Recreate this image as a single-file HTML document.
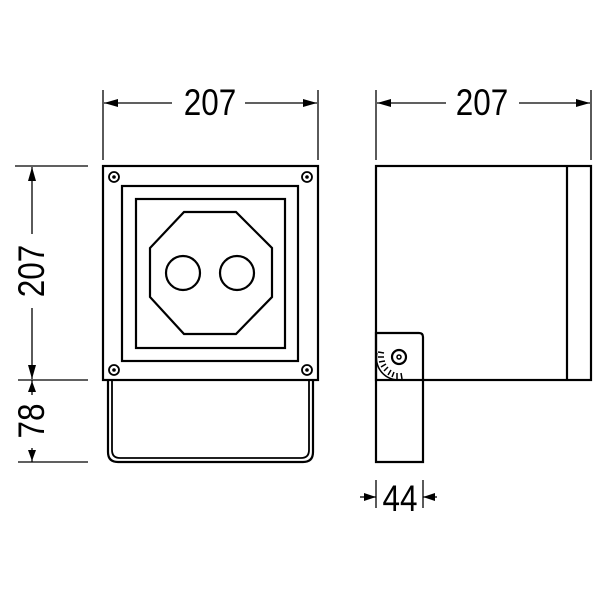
<!DOCTYPE html>
<html><head><style>html,body{margin:0;padding:0;background:#fff}svg{display:block}
text{font-family:"Liberation Sans",sans-serif;font-size:37px;fill:#000}</style></head><body>
<svg width="600" height="600" viewBox="0 0 600 600" xmlns="http://www.w3.org/2000/svg">
<g fill="none" stroke="#000" stroke-width="2.2">
<rect x="103" y="166" width="215" height="214"/>
<rect x="122" y="186" width="176" height="175"/>
<rect x="136" y="199" width="149" height="149"/>
<polygon points="184,212 236,212 272,248 272,297 236,334 184,334 150,297 150,248"/>
<circle cx="183" cy="273" r="17"/><circle cx="237" cy="273" r="17"/>
<path d="M108,380 V452 Q108,462 118,462 H303 Q313,462 313,452 V380"/>
<path d="M112,380 V450 Q112,458 120,458 H301 Q309,458 309,450 V380" stroke-width="1.8"/>
</g>
<g fill="none" stroke="#000" stroke-width="1.8">
<circle cx="114" cy="177" r="5"/><circle cx="307" cy="177" r="5"/><circle cx="114" cy="370" r="5"/><circle cx="307" cy="370" r="5"/>
</g>
<g fill="#000"><circle cx="114" cy="177" r="1.8"/><circle cx="307" cy="177" r="1.8"/><circle cx="114" cy="370" r="1.8"/><circle cx="307" cy="370" r="1.8"/></g>
<g fill="none" stroke="#000" stroke-width="2.2">
<rect x="376" y="166" width="215" height="214"/>
<line x1="567" y1="166" x2="567" y2="380"/>
<path d="M376,333 H419 Q423,333 423,337 V462 H376 Z"/>
<circle cx="399" cy="357" r="7"/>
<path d="M377,353 A22,22 0 0 0 399,380" stroke-width="1.5"/>
</g>
<circle cx="399" cy="357" r="2" fill="none" stroke="#000" stroke-width="1.5"/>
<g stroke="#000" stroke-width="1.5">
<line x1="378" y1="352" x2="384" y2="353"/><line x1="378" y1="357" x2="384" y2="357"/><line x1="379" y1="362" x2="385" y2="361"/>
<line x1="381" y1="367" x2="386" y2="364"/><line x1="384" y1="371" x2="388" y2="367"/><line x1="388" y1="375" x2="391" y2="370"/>
<line x1="392" y1="377" x2="394" y2="372"/><line x1="397" y1="379" x2="397" y2="373"/><line x1="402" y1="379" x2="401" y2="373"/>
</g>
<g stroke="#000" stroke-width="1.3" fill="none">
<line x1="103" y1="90" x2="103" y2="160"/><line x1="318" y1="90" x2="318" y2="160"/>
<line x1="104" y1="103" x2="172" y2="103"/><line x1="245" y1="103" x2="317" y2="103"/>
<line x1="376" y1="90" x2="376" y2="160"/><line x1="591" y1="90" x2="591" y2="160"/>
<line x1="377" y1="103" x2="446" y2="103"/><line x1="519" y1="103" x2="590" y2="103"/>
<line x1="15" y1="166" x2="88" y2="166"/><line x1="18" y1="380" x2="88" y2="380"/><line x1="18" y1="462" x2="88" y2="462"/>
<line x1="32" y1="167" x2="32" y2="234"/><line x1="32" y1="308" x2="32" y2="379"/>
<line x1="32" y1="380" x2="32" y2="395"/><line x1="32" y1="448" x2="32" y2="462"/>
<line x1="376" y1="480" x2="376" y2="508"/><line x1="423" y1="480" x2="423" y2="508"/>
<line x1="360" y1="497" x2="376" y2="497"/><line x1="423" y1="497" x2="437" y2="497"/>
</g>
<g fill="#000">
<polygon points="104,103 118,99 118,107"/><polygon points="317,103 303,99 303,107"/>
<polygon points="377,103 391,99 391,107"/><polygon points="590,103 576,99 576,107"/>
<polygon points="32,167 28,181 36,181"/><polygon points="32,379 28,365 36,365"/>
<polygon points="32,381 28,392 36,392"/><polygon points="32,461 28,450 36,450"/>
<polygon points="376,497 364,493 364,501"/><polygon points="423,497 435,493 435,501"/>
</g>
<text x="210" y="115" text-anchor="middle" transform="translate(210 0) scale(0.85 1) translate(-210 0)">207</text>
<text x="482" y="115" text-anchor="middle" transform="translate(482 0) scale(0.85 1) translate(-482 0)">207</text>
<text transform="translate(44 271) rotate(-90) scale(0.85 1)" text-anchor="middle">207</text>
<text transform="translate(44 421) rotate(-90) scale(0.85 1)" text-anchor="middle">78</text>
<text x="400" y="511" text-anchor="middle" transform="translate(400 0) scale(0.85 1) translate(-400 0)">44</text>
</svg>
</body></html>
